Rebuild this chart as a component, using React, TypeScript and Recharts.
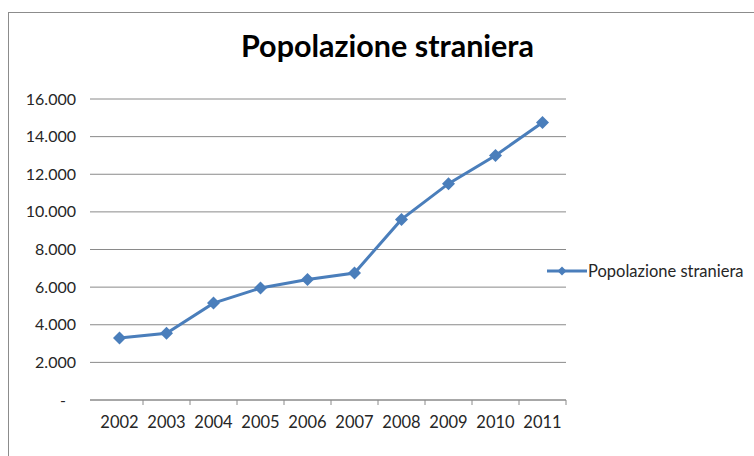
import { LineChart, Line, XAxis, YAxis, CartesianGrid, Legend } from "recharts";

const years = ["2002", "2003", "2004", "2005", "2006", "2007", "2008", "2009", "2010", "2011"];
const population = [3300, 3550, 5150, 5950, 6400, 6750, 9600, 11500, 13000, 14750];
const yTicks = [0, 2000, 4000, 6000, 8000, 10000, 12000, 14000, 16000];

const data = years.map((year, i) => ({ year, value: population[i] }));

const BLUE = "#4A7EBB";
const GRID = "#8a8a8a";
const TEXT = "#262626";
const FONT = "Lato, 'Open Sans', sans-serif";

// Excel style: "-" for zero, dot as thousands separator
const formatTick = (v: number) =>
  v === 0 ? "-" : String(v).replace(/\B(?=(\d{3})+(?!\d))/g, ".");

const Diamond = (props: any) => {
  const { cx, cy, index } = props;
  const r = 6.5;
  return (
    <polygon
      key={`d-${index}`}
      points={`${cx},${cy - r} ${cx + r},${cy} ${cx},${cy + r} ${cx - r},${cy}`}
      fill={BLUE}
    />
  );
};

const YTick = ({ x, y, payload }: any) => (
  <text
    x={payload.value === 0 ? x - 10 : x}
    y={y}
    dy={5.5}
    textAnchor="end"
    fontSize={16}
    fontFamily={FONT}
    fill={TEXT}
  >
    {formatTick(payload.value)}
  </text>
);

// tick marks sit between categories, like Excel
const XTick = ({ x, y, payload }: any) => (
  <g>
    <line x1={x + 23.5} x2={x + 23.5} y1={y} y2={y + 5} stroke={GRID} />
    <text x={x} y={y + 27.5} textAnchor="middle" fontSize={16.5} fontFamily={FONT} fill={TEXT}>
      {payload.value}
    </text>
  </g>
);

const LegendContent = () => (
  <svg width={210} height={24} style={{ overflow: "visible" }}>
    <line x1={2} x2={42} y1={12} y2={12} stroke={BLUE} strokeWidth={3} />
    <polygon points="17,7.5 21.5,12 17,16.5 12.5,12" fill={BLUE} />
    <text x={43} y={17.5} fontSize={16.5} fontFamily={FONT} fill={TEXT}>
      Popolazione straniera
    </text>
  </svg>
);

export default function App() {
  return (
    <div style={{ position: "absolute", left: 0, top: 0, width: 754, height: 456, background: "#fff", overflow: "hidden" }}>
      {/* chart frame, cut off on right and bottom like the screenshot */}
      <div
        style={{
          position: "absolute",
          left: 8,
          top: 12,
          width: 746,
          height: 444,
          borderTop: "1.5px solid #8c8c8c",
          borderLeft: "1.5px solid #8c8c8c",
        }}
      />
      <div
        style={{
          position: "absolute",
          left: 0,
          top: 27,
          width: 775,
          textAlign: "center",
          fontFamily: FONT,
          fontWeight: 700,
          fontSize: 30.5,
          lineHeight: "36px",
          color: "#000",
        }}
      >
        Popolazione straniera
      </div>
      <div style={{ position: "absolute", left: 0, top: 0 }}>
        <LineChart width={754} height={456} data={data} margin={{ top: 99, right: 188, bottom: 0, left: 0 }}>
          <CartesianGrid vertical={false} stroke={GRID} />
          <XAxis
            dataKey="year"
            scale="band"
            height={56}
            padding={{ left: 6, right: 0 }}
            stroke={GRID}
            tickLine={false}
            tickSize={0}
            tickMargin={0}
            tick={<XTick />}
            interval={0}
          />
          <YAxis
            width={90}
            domain={[0, 16000]}
            ticks={yTicks}
            axisLine={false}
            tickLine={false}
            tickSize={0}
            tickMargin={14}
            tick={<YTick />}
            interval={0}
          />
          <Legend
            layout="horizontal"
            verticalAlign="middle"
            align="center"
            content={<LegendContent />}
            wrapperStyle={{ position: "absolute", left: 545, top: 259, width: 210, height: 24 }}
          />
          <Line
            type="linear"
            dataKey="value"
            stroke={BLUE}
            strokeWidth={3}
            dot={Diamond}
            activeDot={false}
            isAnimationActive={false}
          />
        </LineChart>
      </div>
    </div>
  );
}
